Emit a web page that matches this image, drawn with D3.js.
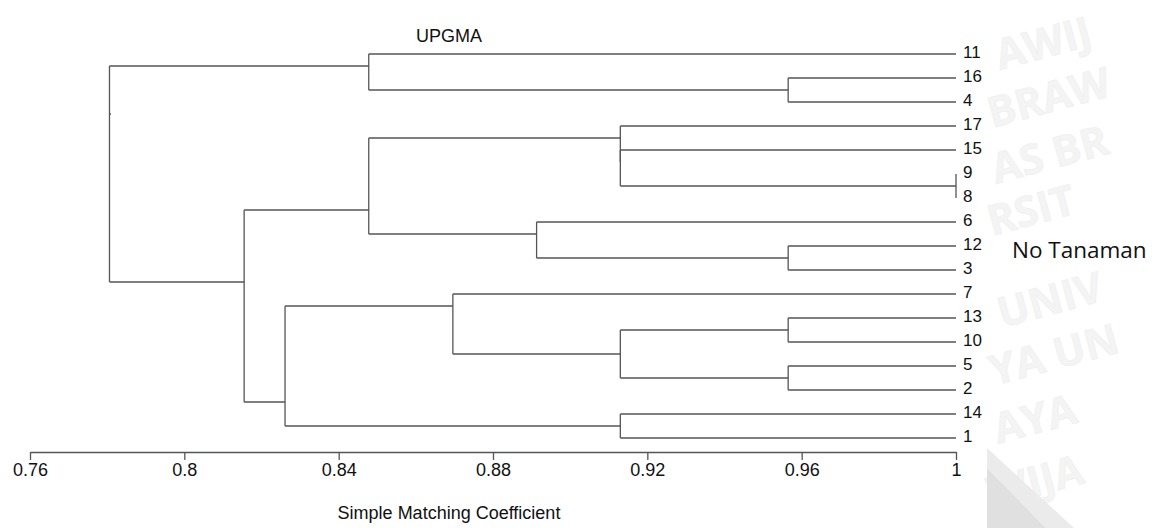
<!DOCTYPE html>
<html>
<head>
<meta charset="utf-8">
<script src="https://cdn.jsdelivr.net/npm/d3@7"></script>
<style>
  html, body { margin: 0; padding: 0; background: #fff; }
  svg { display: block; }
</style>
</head>
<body>
<svg id="chart" width="1155" height="528"></svg>
<script>
// Leaf (plant number) order from top to bottom of the dendrogram
const leafOrder = ["11", "16", "4", "17", "15", "9", "8", "6", "12", "3", "7", "13", "10", "5", "2", "14", "1"];

// UPGMA merges: each cluster joins a left and a right child at a similarity level
const mergeNames = ["c16_4", "c9_8", "c12_3", "c13_10", "c5_2", "c14_1", "cG", "cF", "cE", "cX", "cC", "cD", "cB", "cA", "cH", "root"];
const mergeLeft  = ["16", "9", "12", "13", "5", "14", "c13_10", "7", "cF", "15", "17", "6", "cC", "11", "cB", "cA"];
const mergeRight = ["4", "8", "3", "10", "2", "1", "c5_2", "cG", "c14_1", "c9_8", "cX", "c12_3", "cD", "c16_4", "cE", "cH"];
const mergeLevel = [0.9565, 1.0, 0.9565, 0.9565, 0.9565, 0.9130, 0.9130, 0.8696, 0.8261, 0.9130, 0.9130, 0.8913, 0.8478, 0.8478, 0.8155, 0.7806];

// Axis ticks
const tickValues = [0.76, 0.8, 0.84, 0.88, 0.92, 0.96, 1];
const tickLabels = ["0.76", "0.8", "0.84", "0.88", "0.92", "0.96", "1"];

const titleText = "UPGMA";
const axisTitle = "Simple Matching Coefficient";
const sideLabel = "No Tanaman";

// Faint letter fragments of the page watermark in the right margin
const watermarkWords = ["AWIJ", "BRAW", "AS BR", "RSIT", "UNIV", "YA UN", "AYA", "WIJA"];

const svg = d3.select("#chart");
const lineColor = "#555";
const font = "'Liberation Sans', Arial, sans-serif";

// ---- page watermark (right margin) ----
const wm = svg.append("g");
const wmRows = [70, 128, 184, 236, 328, 386, 444, 508];
const wmShift = [8, 0, 4, 0, 10, 2, 6, 0];
wm.selectAll("text").data(watermarkWords).join("text")
  .attr("transform", (d, i) => `translate(${992 + wmShift[i]},${wmRows[i]}) rotate(-15)`)
  .attr("font-family", "'Open Sans', sans-serif")
  .attr("font-weight", 700)
  .attr("font-size", 42)
  .attr("fill", "#f4f4f4")
  .attr("stroke", "#efefef")
  .attr("stroke-width", 0.6)
  .text(d => d);
wm.append("polygon")
  .attr("points", "987,448 987,468 1046,528 1074,528")
  .attr("fill", "#ebebeb");
wm.append("polygon")
  .attr("points", "987,468 987,528 1046,528")
  .attr("fill", "#e0e0e0");

// ---- scales ----
const x = d3.scaleLinear().domain([0.76, 1]).range([30, 956]);
const yLeaf = d3.scalePoint().domain(leafOrder).range([54, 438]);

// Build cluster table
const nodes = new Map();
leafOrder.forEach(id => nodes.set(id, { id, leaf: true, level: 1, first: id, last: id }));
mergeNames.forEach((name, i) => {
  const L = nodes.get(mergeLeft[i]);
  const R = nodes.get(mergeRight[i]);
  nodes.set(name, { id: name, leaf: false, left: L, right: R, level: mergeLevel[i], first: L.first, last: R.last });
});
// Vertical anchor of a cluster: between the last leaf of its left part and the first leaf of its right part
function yOf(n) {
  if (n.leaf) return yLeaf(n.id);
  return (yLeaf(n.left.last) + yLeaf(n.right.first)) / 2;
}

const g = svg.append("g")
  .attr("fill", "none")
  .attr("stroke", lineColor)
  .attr("stroke-width", 1.3);

// branches: one vertical per cluster plus a horizontal to each child
mergeNames.forEach(name => {
  const n = nodes.get(name);
  const xn = x(n.level);
  g.append("line")
    .attr("x1", xn).attr("x2", xn)
    .attr("y1", yOf(n.left)).attr("y2", yOf(n.right));
  [n.left, n.right].forEach(c => {
    g.append("line")
      .attr("x1", xn).attr("x2", x(c.level))
      .attr("y1", yOf(c)).attr("y2", yOf(c));
  });
});
// small stub at the root
const rootNode = nodes.get("root");
g.append("line")
  .attr("x1", x(rootNode.level)).attr("x2", x(rootNode.level) + 1.5)
  .attr("y1", yOf(rootNode)).attr("y2", yOf(rootNode));

// leaf labels
svg.append("g").selectAll("text").data(leafOrder).join("text")
  .attr("x", x(1) + 7)
  .attr("y", d => yLeaf(d) + 3.5)
  .attr("font-family", font)
  .attr("font-size", 17)
  .attr("fill", "#111")
  .text(d => d);

// x axis
const axis = d3.axisBottom(x)
  .tickValues(tickValues)
  .tickFormat((d, i) => tickLabels[i])
  .tickSizeInner(8)
  .tickSizeOuter(0);
const ax = svg.append("g").attr("transform", "translate(0,452)").call(axis);
ax.select(".domain").attr("stroke", lineColor).attr("stroke-width", 1.3);
ax.selectAll(".tick line").attr("stroke", lineColor).attr("stroke-width", 1.3);
ax.selectAll(".tick text")
  .attr("font-family", font)
  .attr("font-size", 18)
  .attr("fill", "#111");

// titles
svg.append("text")
  .attr("x", 449).attr("y", 42)
  .attr("text-anchor", "middle")
  .attr("font-family", font)
  .attr("font-size", 18)
  .attr("fill", "#111")
  .text(titleText);

svg.append("text")
  .attr("x", 449).attr("y", 519)
  .attr("text-anchor", "middle")
  .attr("font-family", font)
  .attr("font-size", 18)
  .attr("fill", "#111")
  .text(axisTitle);

svg.append("text")
  .attr("x", 1012).attr("y", 258)
  .attr("font-family", "'Open Sans', sans-serif")
  .attr("font-size", 22.5)
  .attr("fill", "#111")
  .text(sideLabel);
</script>
</body>
</html>
